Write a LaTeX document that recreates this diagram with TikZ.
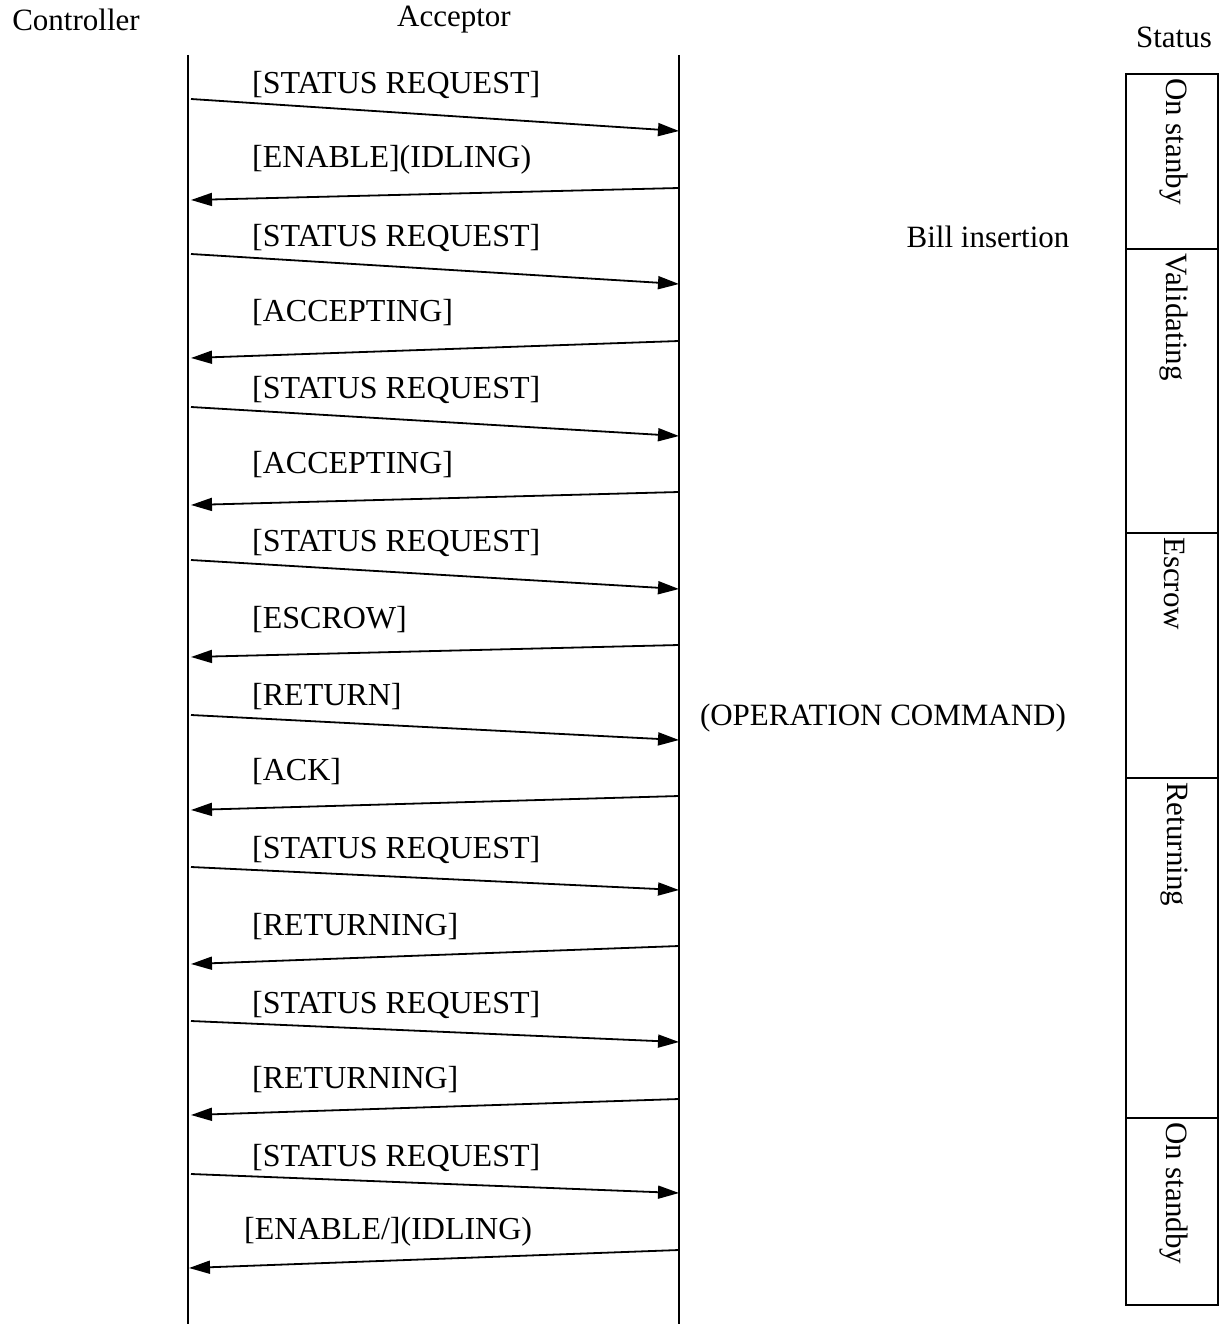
\documentclass[tikz,border=0pt]{standalone}
\usepackage{fontspec}
\setmainfont{Liberation Serif}
\usetikzlibrary{arrows.meta}
\begin{document}
\begin{tikzpicture}[x=1pt,y=-1pt,
  txt/.style={font=\fontsize{31}{36}\selectfont, inner sep=0pt},
  msglabel/.style={font=\fontsize{32}{37}\selectfont, inner sep=0pt, anchor=west},
  lifeline/.style={line width=1.4pt},
  msg/.style={line width=1.8pt, -{Triangle[length=21pt,width=13pt]}},
  cell/.style={draw, line width=2pt},
  celltext/.style={txt, anchor=west, rotate=-90, inner sep=4pt}]
\useasboundingbox (0,0) rectangle (1222,1324);
% headers
\node[txt] (ctrl) at (76,20) {Controller};
\node[txt] (acc) at (454,20) {Acceptor};
\node[txt] (stat) at (1174,37) {Status};
% lifelines
\coordinate (ltop) at (188,55);
\coordinate (lbot) at (188,1324);
\coordinate (rtop) at (679,55);
\coordinate (rbot) at (679,1324);
\draw[lifeline] (ltop) -- (lbot);
\draw[lifeline] (rtop) -- (rbot);
% messages: label y / left y / right y / direction (1 = to acceptor, 0 = to controller) / text
\foreach \i/\ly/\yl/\yr/\d/\t in {
  1/85/99/131/1/{[STATUS REQUEST]},
  2/160/200/188/0/{[ENABLE](IDLING)},
  3/238/254/284/1/{[STATUS REQUEST]},
  4/313/358/341/0/{[ACCEPTING]},
  5/390/407/436/1/{[STATUS REQUEST]},
  6/465/505/492/0/{[ACCEPTING]},
  7/543/560/589/1/{[STATUS REQUEST]},
  8/620/657/645/0/{[ESCROW]},
  9/697/715/740/1/{[RETURN]},
  10/772/810/796/0/{[ACK]},
  11/850/867/890/1/{[STATUS REQUEST]},
  12/927/964/946/0/{[RETURNING]},
  13/1005/1021/1042/1/{[STATUS REQUEST]},
  14/1080/1115/1099/0/{[RETURNING]},
  15/1158/1174/1193/1/{[STATUS REQUEST]}}{
  \node[msglabel] (m\i) at (252,\ly) {\t};
  \coordinate (c\i) at (191,\yl);
  \coordinate (a\i) at (679,\yr);
  \ifnum\d=1
    \draw[msg] (c\i) -- (a\i);
  \else
    \draw[msg] (a\i) -- (c\i);
  \fi
}
\node[msglabel] (m16) at (244,1232) {[ENABLE/](IDLING)};
\coordinate (c16) at (189,1268);
\coordinate (a16) at (679,1250);
\draw[msg] (a16) -- (c16);
% side notes
\node[txt] (bill) at (988,237) {Bill insertion};
\node[txt] (opcmd) at (883,718) {(OPERATION COMMAND)};
% status cells
\draw[cell] (1126,74) rectangle (1218,249);
\draw[cell] (1126,249) rectangle (1218,533);
\draw[cell] (1126,533) rectangle (1218,778);
\draw[cell] (1126,778) rectangle (1218,1118);
\draw[cell] (1126,1118) rectangle (1218,1305);
\node[celltext] (s1) at (1174,74) {On stanby};
\node[celltext] (s2) at (1174,249) {Validating};
\node[celltext] (s3) at (1174,533) {Escrow};
\node[celltext] (s4) at (1174,778) {Returning};
\node[celltext] (s5) at (1174,1118) {On standby};
\end{tikzpicture}
\end{document}
